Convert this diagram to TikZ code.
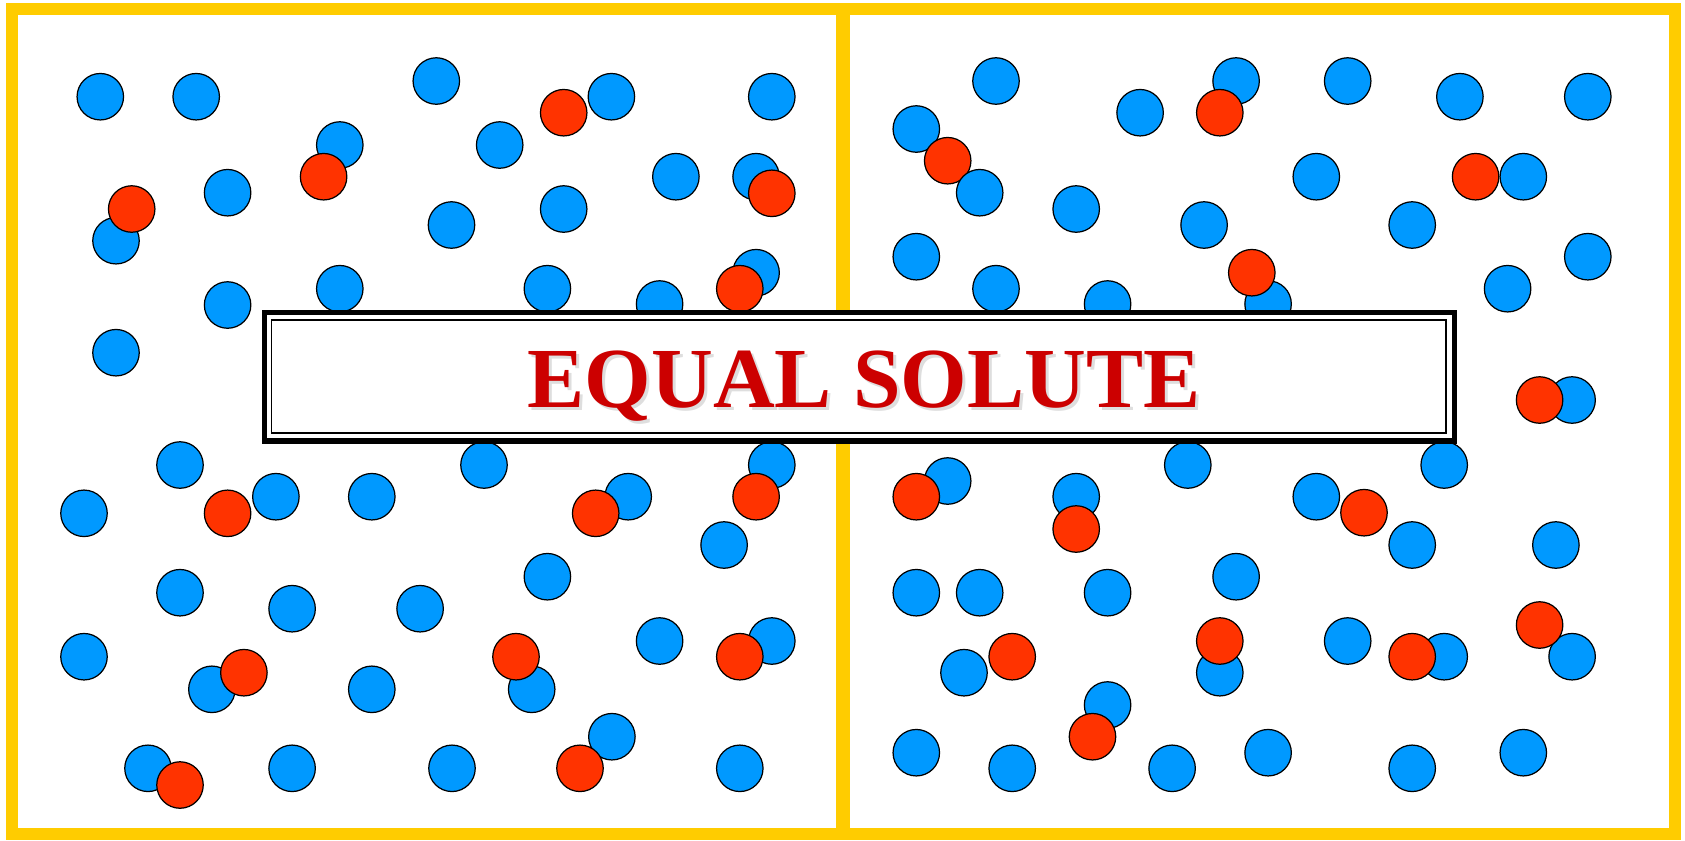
\documentclass[tikz,border=0pt]{standalone}
\usepackage{fontspec}
\setmainfont{Liberation Serif}
\definecolor{frameyellow}{HTML}{FFCC00}
\definecolor{molblue}{HTML}{0099FF}
\definecolor{molred}{HTML}{FF3300}
\definecolor{titlered}{HTML}{CC0000}
\tikzset{
  mol/.style={circle, draw=black, line width=0.7pt, minimum size=0.93cm, inner sep=0pt},
  bluemol/.style={mol, fill=molblue},
  redmol/.style={mol, fill=molred},
  frameline/.style={draw=frameyellow, line width=6.5pt},
  titlefont/.style={font=\fontsize{48.7}{52}\selectfont\bfseries, inner sep=0pt}
}
\begin{document}
\begin{tikzpicture}[x=0.02cm, y=-0.02cm]
\useasboundingbox (0,0) rectangle (1685,840);
\fill[white] (0,0) rectangle (1685,840);
% frames
\coordinate (tl) at (12,9);
\coordinate (br) at (1675,834);
\draw[frameline] (tl) rectangle (br);
\coordinate (mtop) at (843,9);
\coordinate (mbot) at (843,834);
\draw[draw=frameyellow, line width=8.5pt] (mtop) -- (mbot);
% blue molecules
\foreach \x/\y [count=\i] in {
 100.3/96.7, 196.2/96.7, 436.3/81, 611.4/96.7, 771.8/96.7, 339.8/145, 499.7/145,
 227.6/192.7, 675.9/176.7, 756.1/176.7, 116/240.7, 451.5/225, 563.7/209,
 227.6/305, 339.8/288.7, 547.4/288.7, 659.6/304, 756.1/272.7, 116/352.7,
 996/81, 1236.1/81, 1347.7/81, 1459.9/96.7, 1587.8/96.7, 1140.1/112.7, 916.3/129,
 1076.2/209, 1316.3/176.7, 1523.3/176.7, 1204.1/225, 1412.2/225,
 916.3/256.7, 1587.8/256.7, 996/288.7, 1107.6/304, 1268.1/304, 1507.6/288.7, 1572.1/400,
 180/465, 84/513.3, 275.9/496.7, 371.8/496.7, 484/465, 628.2/496.7, 771.8/465,
 724.1/545, 547.4/576.7, 180/592.7, 292.1/608.7, 420.1/608.7, 84/656.7,
 211.9/689.3, 371.8/689.3, 531.7/689.3, 659.6/641, 771.8/641, 148/768.3,
 292.1/768.3, 452/768.3, 611.9/736.7, 739.8/768.3,
 947.7/481, 1076.2/496.7, 1187.8/465, 1316.3/496.7, 1444.2/465, 1412.2/545,
 1555.9/545, 916.3/592.7, 979.7/592.7, 1107.6/592.7, 1236.1/576.7, 964/672.7,
 1219.8/672.7, 1347.7/641, 1444.2/656.7, 1572.1/656.7, 1107.6/705, 916.3/752.7,
 1012.2/768.3, 1172.1/768.3, 1268.1/752.7, 1412.2/768.3, 1523.3/752.7}
 \node[bluemol] (b\i) at (\x,\y) {};
% red molecules
\foreach \x/\y [count=\i] in {
 563.7/112.7, 323.6/176.7, 131.7/209, 771.8/193.3, 739.8/288.7,
 1219.8/112.7, 947.7/160.7, 1475.6/176.7, 1251.8/272.7, 1539.6/400,
 227.6/513.3, 595.7/513.3, 756.1/496.7, 243.9/672.7, 516/656.7, 739.8/656.7,
 180/785, 580/768.3,
 916.3/496.7, 1076.2/529, 1364/512.7, 1012.2/656.7, 1219.8/641, 1412.2/656.7,
 1539.6/625, 1092.5/736.7}
 \node[redmol] (r\i) at (\x,\y) {};
% blue on top of red
\node[bluemol] (btop) at (979.7,192.7) {};
% title box
\coordinate (boxa) at (264.5,312.5);
\coordinate (boxb) at (1454.5,441);
\coordinate (inna) at (271.5,320.3);
\coordinate (innb) at (1446,433);
\filldraw[fill=white, draw=black, line width=3.1pt] (boxa) rectangle (boxb);
\draw[black, line width=1pt] (inna) rectangle (innb);
\node[titlefont, anchor=base, text=black!13] (titleshadow) at (867,410.3) {EQUAL SOLUTE};
\node[titlefont, anchor=base, text=titlered] (title) at (864,407.3) {EQUAL SOLUTE};
\end{tikzpicture}
\end{document}
